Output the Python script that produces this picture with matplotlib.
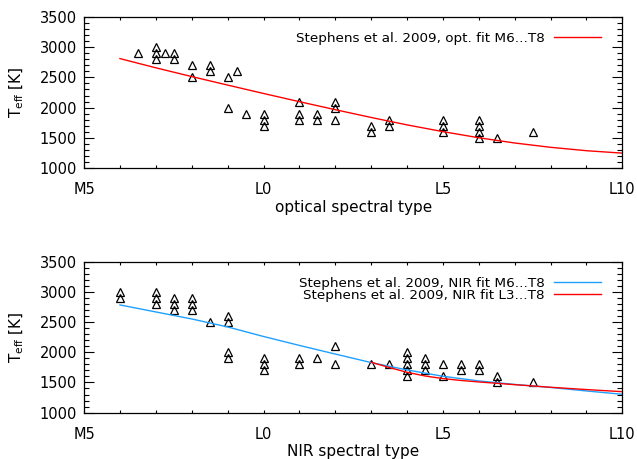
import numpy as np
import matplotlib.pyplot as plt
from matplotlib.ticker import MultipleLocator

# spectral type as a number: M5 = -5, L0 = 0, L5 = 5, L10 = 10
spt_ticks = [-5, 0, 5, 10]
spt_labels = ["M5", "L0", "L5", "L10"]
teff_ticks = [1000, 1500, 2000, 2500, 3000, 3500]

# objects classified with optical spectra
opt_spt = [-3.5, -3, -3, -3, -2.75, -2.5, -2.5, -2, -2, -1.5, -1.5, -1, -1, -0.75,
           -0.5, 0, 0, 0, 1, 1, 1, 1.5, 1.5, 2, 2, 2, 3, 3, 3.5, 3.5,
           5, 5, 5, 6, 6, 6, 6, 6.5, 7.5]
opt_teff = [2900, 3000, 2900, 2800, 2900, 2900, 2800, 2700, 2500, 2700, 2600, 2500, 2000, 2600,
            1900, 1900, 1800, 1700, 2100, 1900, 1800, 1900, 1800, 2100, 2000, 1800, 1700, 1600, 1800, 1700,
            1800, 1700, 1600, 1800, 1700, 1600, 1500, 1500, 1600]

# objects classified with NIR spectra
nir_spt = [-4, -4, -3, -3, -3, -2.5, -2.5, -2.5, -2, -2, -2, -1.5, -1, -1, -1, -1,
           0, 0, 0, 1, 1, 1.5, 2, 2, 3, 3.5, 4, 4, 4, 4, 4, 4.5, 4.5, 4.5,
           5, 5, 5.5, 5.5, 6, 6, 6.5, 6.5, 7.5]
nir_teff = [3000, 2900, 3000, 2900, 2800, 2900, 2800, 2700, 2900, 2800, 2700, 2500, 2600, 2500, 2000, 1900,
            1900, 1800, 1700, 1900, 1800, 1900, 2100, 1800, 1800, 1800, 2000, 1900, 1800, 1700, 1600, 1900, 1800, 1700,
            1800, 1600, 1800, 1700, 1800, 1700, 1600, 1500, 1500]

# Stephens et al. 2009 relations
fit_spt = [-4, -3, -2, -1, 0, 1, 2, 3, 4, 5, 6, 7, 8, 9, 10]
opt_fit = [2808, 2656, 2512, 2372, 2234, 2099, 1967, 1839, 1717, 1606, 1505, 1419, 1348, 1292, 1252]
nir_fit = [2783, 2667, 2551, 2419, 2261, 2113, 1970, 1829, 1707, 1602, 1525, 1467, 1417, 1359, 1304]
l3_spt = [3, 3.5, 4, 4.5, 5, 5.5, 6, 6.5, 7, 7.5, 8, 9, 10]
nir_fit_l3 = [1834, 1748, 1668, 1607, 1564, 1533, 1508, 1486, 1463, 1442, 1420, 1382, 1347]

RED = "#ff0000"
BLUE = "#1ea0ff"


def setup_axis(ax, xlabel):
    ax.set_xlim(-5, 10)
    ax.set_ylim(1000, 3500)
    ax.set_xticks(spt_ticks)
    ax.set_xticklabels(spt_labels)
    ax.xaxis.set_minor_locator(MultipleLocator(1))
    ax.set_yticks(teff_ticks)
    ax.yaxis.set_minor_locator(MultipleLocator(100))
    ax.tick_params(which="both", direction="in", top=True, right=True, width=0.8)
    ax.tick_params(axis="x", which="major", length=2.5, pad=10, labelsize=10.5)
    ax.tick_params(axis="x", which="minor", length=2)
    ax.tick_params(axis="y", which="major", length=7, pad=5, labelsize=10.5)
    ax.tick_params(axis="y", which="minor", length=3.5)
    ax.set_xlabel(xlabel, fontsize=11)
    ax.xaxis.set_label_coords(0.5, -0.21)
    ax.set_ylabel(r"T$_{\rm eff}$ [K]", fontsize=11)
    ax.yaxis.set_label_coords(-0.108, 0.5)
    for s in ax.spines.values():
        s.set_linewidth(0.9)


def triangles(ax, x, y):
    ax.plot(x, y, "^", ms=6, mfc="none", mec="black", mew=0.9, ls="none")


fig = plt.figure(figsize=(6.37, 4.59), dpi=100)
ax1 = fig.add_axes([0.132, 0.633, 0.845, 0.331])
ax2 = fig.add_axes([0.132, 0.101, 0.845, 0.329])

triangles(ax1, opt_spt, opt_teff)
ax1.plot(fit_spt, opt_fit, color=RED, lw=1, label="Stephens et al. 2009, opt. fit M6...T8")
setup_axis(ax1, "optical spectral type")

triangles(ax2, nir_spt, nir_teff)
ax2.plot(fit_spt, nir_fit, color=BLUE, lw=1, label="Stephens et al. 2009, NIR fit M6...T8")
ax2.plot(l3_spt, nir_fit_l3, color=RED, lw=1, label="Stephens et al. 2009, NIR fit L3...T8")
setup_axis(ax2, "NIR spectral type")

for ax in (ax1, ax2):
    ax.legend(loc="upper right", bbox_to_anchor=(0.961, 0.90), markerfirst=False, frameon=False,
              handlelength=3.5, handletextpad=0.7, fontsize=9.7, borderaxespad=0, borderpad=0,
              labelspacing=-0.05)

fig.savefig("out.png", dpi=100)
